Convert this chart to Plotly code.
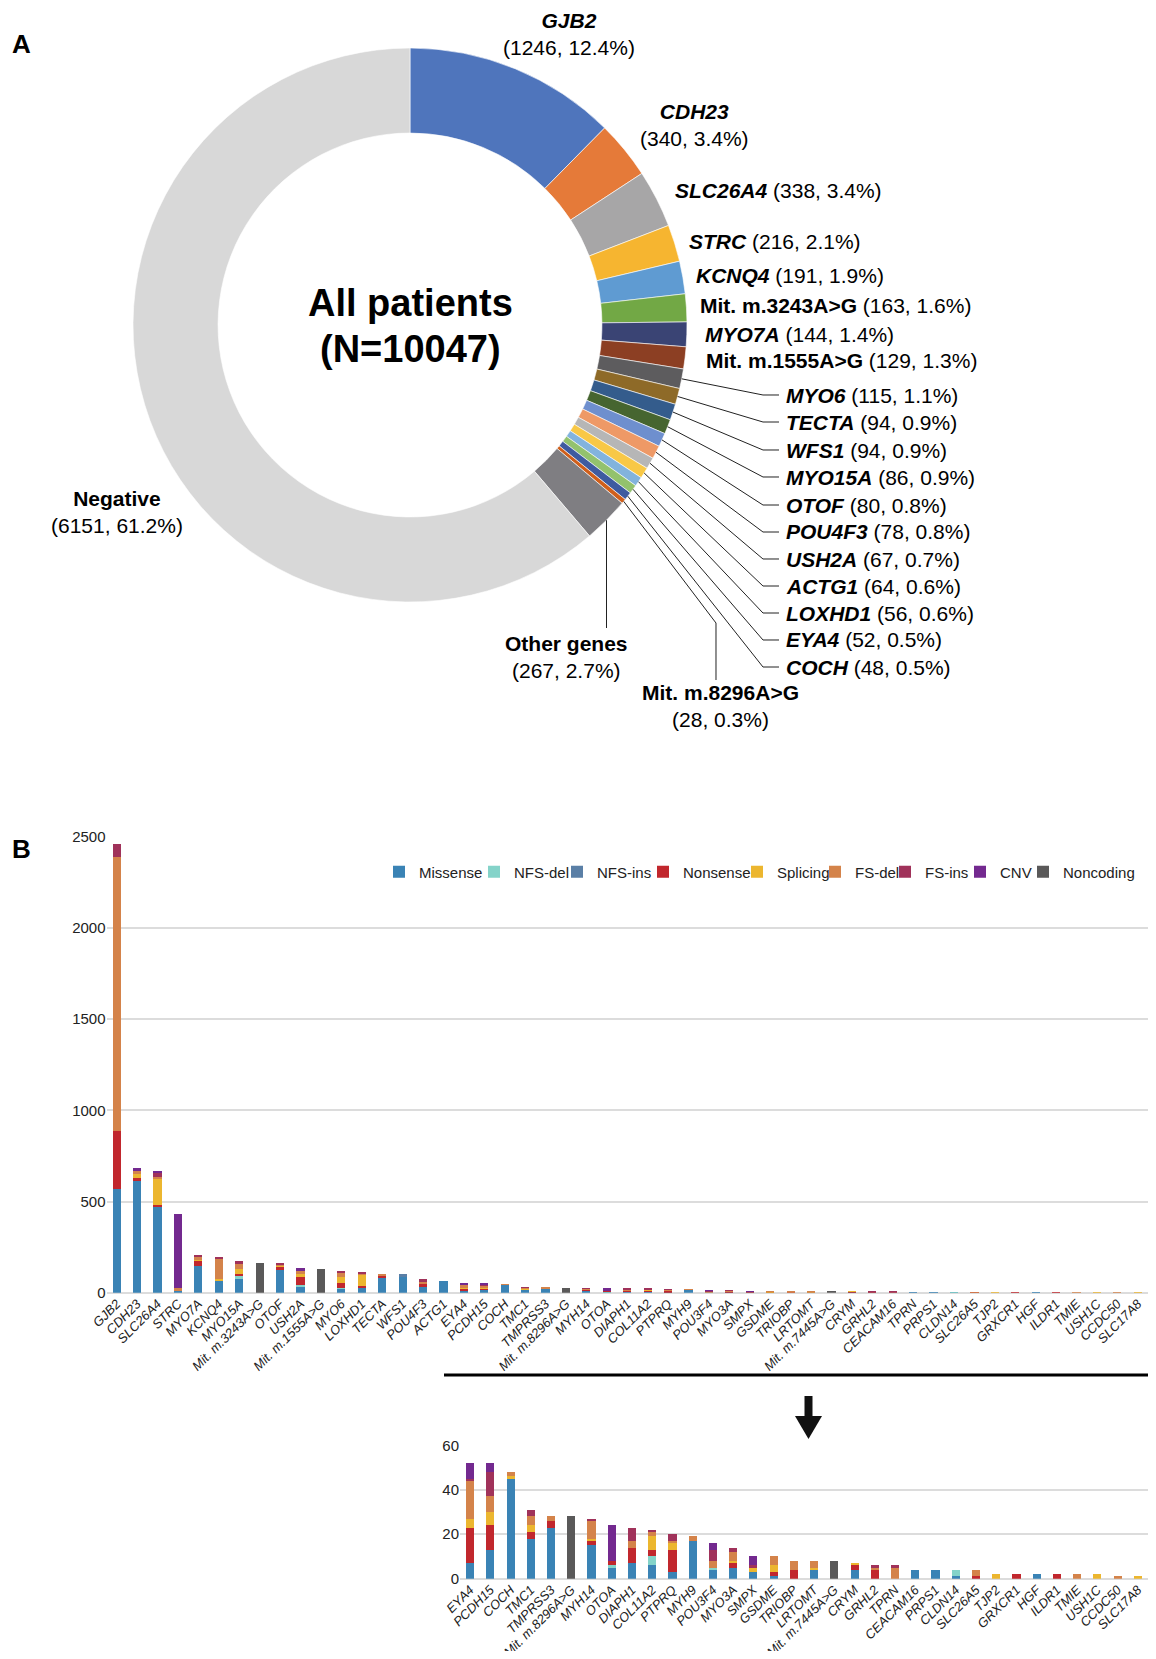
import math
import plotly.graph_objects as go

# The page body has an 8px margin; the figure is sized so that the page fits the window.
OFF = 8
WF, HF = 1140, 1643
RIGHT = OFF + WF  # right edge of the figure in page px
FONT = "Liberation Sans, Arial, Helvetica, sans-serif"

# ---------------- Panel A data ----------------
pie_labels = ["GJB2", "CDH23", "SLC26A4", "STRC", "KCNQ4", "Mit. m.3243A>G", "MYO7A",
              "Mit. m.1555A>G", "MYO6", "TECTA", "WFS1", "MYO15A", "OTOF", "POU4F3",
              "USH2A", "ACTG1", "LOXHD1", "EYA4", "COCH", "Mit. m.8296A>G",
              "Other genes", "Negative"]
pie_values = [1246, 340, 338, 216, 191, 163, 144, 129, 115, 94, 94, 86, 80, 78,
              67, 64, 56, 52, 48, 28, 267, 6151]
pie_colors = ["#4F75BC", "#E57A39", "#A7A6A7", "#F6B530", "#5F9BD2", "#72A845", "#3A4474",
              "#8C3F23", "#5D5C5E", "#8E6A28", "#345C8C", "#466530", "#6E8FCE", "#EE9966",
              "#B6B6B6", "#F8C846", "#82B3DD", "#93C26D", "#3E5BA0", "#D05F1B",
              "#7F7E82", "#D8D8D8"]
center_title = ["All patients", "(N=10047)"]

# ---------------- Panel B data ----------------
genes_main = ["GJB2", "CDH23", "SLC26A4", "STRC", "MYO7A", "KCNQ4", "MYO15A", "Mit. m.3243A>G",
              "OTOF", "USH2A", "Mit. m.1555A>G", "MYO6", "LOXHD1", "TECTA", "WFS1", "POU4F3",
              "ACTG1", "EYA4", "PCDH15", "COCH", "TMC1", "TMPRSS3", "Mit. m.8296A>G", "MYH14",
              "OTOA", "DIAPH1", "COL11A2", "PTPRQ", "MYH9", "POU3F4", "MYO3A", "SMPX", "GSDME",
              "TRIOBP", "LRTOMT", "Mit. m.7445A>G", "CRYM", "GRHL2", "CEACAM16", "TPRN", "PRPS1",
              "CLDN14", "SLC26A5", "TJP2", "GRXCR1", "HGF", "ILDR1", "TMIE", "USH1C", "CCDC50",
              "SLC17A8"]
genes_inset = ["EYA4", "PCDH15", "COCH", "TMC1", "TMPRSS3", "Mit. m.8296A>G", "MYH14", "OTOA",
               "DIAPH1", "COL11A2", "PTPRQ", "MYH9", "POU3F4", "MYO3A", "SMPX", "GSDME", "TRIOBP",
               "LRTOMT", "Mit. m.7445A>G", "CRYM", "GRHL2", "TPRN", "CEACAM16", "PRPS1", "CLDN14",
               "SLC26A5", "TJP2", "GRXCR1", "HGF", "ILDR1", "TMIE", "USH1C", "CCDC50", "SLC17A8"]
inset_start = 17

missense = [570, 612, 472, 10, 146, 64, 75, 0, 124, 38,
            0, 22, 26, 86, 92, 31, 64, 7, 13, 45,
            18, 23, 0, 15, 5, 7, 6, 3, 17, 4,
            5, 3, 1, 0, 4, 0, 4, 0, 0, 4,
            4, 1, 0, 0, 0, 2, 0, 0, 0, 0,
            0]
nfs_del = [0, 0, 0, 0, 0, 0, 18, 0, 0, 4,
           0, 5, 0, 0, 0, 0, 0, 0, 0, 0,
           0, 0, 0, 0, 1, 0, 4, 0, 0, 1,
           0, 0, 0, 0, 0, 0, 0, 0, 0, 0,
           0, 3, 0, 0, 0, 0, 0, 0, 0, 0,
           0]
nfs_ins = [0, 0, 0, 0, 0, 0, 0, 0, 0, 0,
           0, 0, 0, 0, 10, 0, 0, 0, 0, 0,
           0, 0, 0, 0, 0, 0, 0, 0, 0, 0,
           0, 0, 0, 0, 0, 0, 0, 0, 0, 0,
           0, 0, 0, 0, 0, 0, 0, 0, 0, 0,
           0]
nonsense = [318, 18, 11, 0, 29, 0, 11, 0, 19, 44,
            0, 26, 11, 5, 0, 17, 0, 16, 11, 0,
            3, 3, 0, 2, 2, 7, 3, 10, 0, 0,
            2, 0, 2, 4, 0, 0, 2, 4, 0, 0,
            0, 0, 1, 0, 2, 0, 2, 0, 0, 0,
            0]
splicing = [0, 20, 142, 0, 11, 11, 26, 0, 7, 16,
            0, 33, 62, 0, 0, 0, 0, 4, 6, 1,
            3, 0, 0, 1, 0, 0, 6, 3, 0, 0,
            1, 2, 3, 0, 1, 0, 1, 0, 0, 0,
            0, 0, 0, 2, 0, 0, 0, 0, 2, 0,
            1]
fs_del = [1501, 16, 7, 17, 10, 110, 25, 0, 5, 17,
          0, 22, 5, 11, 0, 12, 0, 17, 7, 2,
          4, 2, 0, 8, 0, 3, 2, 1, 2, 3,
          4, 0, 4, 4, 3, 0, 0, 1, 5, 0,
          0, 0, 3, 0, 0, 0, 0, 2, 0, 1,
          0]
fs_ins = [71, 0, 26, 0, 11, 11, 19, 0, 8, 0,
          0, 11, 11, 0, 0, 15, 0, 1, 11, 0,
          3, 0, 0, 1, 0, 6, 1, 3, 0, 5,
          2, 1, 0, 0, 0, 0, 0, 1, 1, 0,
          0, 0, 0, 0, 0, 0, 0, 0, 0, 0,
          0]
cnv = [0, 18, 9, 404, 0, 0, 0, 0, 0, 16,
       0, 0, 0, 0, 0, 0, 0, 7, 4, 0,
       0, 0, 0, 0, 16, 0, 0, 0, 0, 3,
       0, 4, 0, 0, 0, 0, 0, 0, 0, 0,
       0, 0, 0, 0, 0, 0, 0, 0, 0, 0,
       0]
noncoding = [0, 0, 0, 0, 0, 0, 0, 163, 0, 0,
             129, 0, 0, 0, 0, 0, 0, 0, 0, 0,
             0, 0, 28, 0, 0, 0, 0, 0, 0, 0,
             0, 0, 0, 0, 0, 8, 0, 0, 0, 0,
             0, 0, 0, 0, 0, 0, 0, 0, 0, 0,
             0]
series_names = ["Missense", "NFS-del", "NFS-ins", "Nonsense", "Splicing", "FS-del",
                "FS-ins", "CNV", "Noncoding"]
series_values = [missense, nfs_del, nfs_ins, nonsense, splicing, fs_del, fs_ins, cnv, noncoding]
series_colors = ["#3A83B5", "#84D3C9", "#5A7FA6", "#C1272D", "#ECB62F", "#D4834A",
                 "#A0325A", "#73298F", "#5A5959"]
main_yticks = [0, 500, 1000, 1500, 2000, 2500]
inset_yticks = [0, 20, 40, 60]


# ---------------- layout helpers (page pixel positions -> paper) ----------------
def PX(x):
    return (x - OFF) / WF


def PY(y):
    return 1 - (y - OFF) / HF


def P(x, y):
    return PX(x), PY(y)


cx, cy, R = 410, 325, 277
HOLE = 0.693

fig = go.Figure()

fig.add_trace(go.Pie(
    labels=pie_labels, values=pie_values, sort=False, direction="clockwise", rotation=0,
    hole=HOLE, textinfo="none", showlegend=False,
    marker=dict(colors=pie_colors, line=dict(color="white", width=0.6)),
    domain=dict(x=[PX(cx - R), PX(cx + R)], y=[PY(cy + R), PY(cy - R)]),
))

# stacked bars: main + inset
legend_widths = [50, 38, 41, 49, 33, 25, 30, 18, 72]
for name, vals, col, lw in zip(series_names, series_values, series_colors, legend_widths):
    fig.add_trace(go.Bar(x=genes_main, y=vals, name=name, marker_color=col,
                         marker_line_width=0, legendwidth=lw, xaxis="x", yaxis="y"))
for name, vals, col in zip(series_names, series_values, series_colors):
    fig.add_trace(go.Bar(x=genes_inset, y=vals[inset_start:], name=name, marker_color=col,
                         marker_line_width=0, showlegend=False, xaxis="x2", yaxis="y2"))

# ---------------- annotations ----------------
ann = []


def text(x, y, t, size, xanchor="center", yanchor="middle"):
    ax, ay = P(x, y)
    ann.append(dict(x=ax, y=ay, xref="paper", yref="paper", text=t, showarrow=False,
                    xanchor=xanchor, yanchor=yanchor,
                    font=dict(size=size, color="black", family=FONT)))


def name_html(n):
    if n.startswith("Mit.") or n in ("Other genes", "Negative"):
        return "<b>" + n + "</b>"
    return "<b><i>" + n + "</i></b>"


total = sum(pie_values)
# label positions (page px): (x, y, two_line)
label_pos = {
    "GJB2": (569, 34, True), "CDH23": (694, 125, True),
    "SLC26A4": (673, 191, False), "STRC": (687, 242, False), "KCNQ4": (694, 276, False),
    "Mit. m.3243A>G": (698, 305, False), "MYO7A": (703, 334, False),
    "Mit. m.1555A>G": (704, 360, False),
    "MYO6": (784, 395, False), "TECTA": (784, 422, False), "WFS1": (784, 450, False),
    "MYO15A": (784, 477, False), "OTOF": (784, 505, False), "POU4F3": (784, 532, False),
    "USH2A": (784, 559, False), "ACTG1": (784, 586, False), "LOXHD1": (784, 613, False),
    "EYA4": (784, 640, False), "COCH": (784, 667, False),
    "Mit. m.8296A>G": (720, 706, True), "Other genes": (566, 657, True),
    "Negative": (117, 512, True),
}
for lab, v in zip(pie_labels, pie_values):
    x, y, two = label_pos[lab]
    cnt = "(%d, %.1f%%)" % (v, 100.0 * v / total)
    if two:
        text(x, y, name_html(lab) + "<br>" + cnt, 21)
    else:
        text(x, y, name_html(lab) + " " + cnt, 21, xanchor="left")

text(410, 303, "<b>" + center_title[0] + "</b>", 38)
text(410, 349, "<b>" + center_title[1] + "</b>", 38)
text(21, 44, "<b>A</b>", 26)
text(21, 849, "<b>B</b>", 26)

# ---------------- leader lines ----------------
shapes = []
cum = 0
mid = {}
for lab, v in zip(pie_labels, pie_values):
    mid[lab] = (cum + v / 2) / total
    cum += v


def edge(lab):
    th = 2 * math.pi * mid[lab]
    return cx + R * math.sin(th), cy - R * math.cos(th)


def path(points, width=1, color="#222222"):
    d = ""
    for i, (x, y) in enumerate(points):
        px, py = P(x, y)
        d += ("M" if i == 0 else " L") + " %.5f %.5f" % (px, py)
    shapes.append(dict(type="path", path=d, xref="paper", yref="paper",
                       line=dict(color=color, width=width)))


for lab in ["MYO6", "TECTA", "WFS1", "MYO15A", "OTOF", "POU4F3", "USH2A", "ACTG1",
            "LOXHD1", "EYA4", "COCH"]:
    ex, ey = edge(lab)
    ly = label_pos[lab][1]
    path([(ex, ey), (763, ly), (779, ly)])
ex, ey = edge("Mit. m.8296A>G")
path([(ex, ey), (716, 623), (716, 680)])
ex, ey = edge("Other genes")
path([(ex, ey), (ex, 628)])

# separator and arrow
x0, y0 = P(444, 1375)
x1, y1 = P(RIGHT, 1375)
shapes.append(dict(type="line", x0=x0, y0=y0, x1=x1, y1=y1, xref="paper", yref="paper",
                   line=dict(color="black", width=3)))
ax0, ay0 = P(804.5, 1396)
ax1, ay1 = P(812.5, 1418)
shapes.append(dict(type="rect", x0=ax0, y0=ay0, x1=ax1, y1=ay1, xref="paper", yref="paper",
                   fillcolor="#111111", line=dict(width=0)))
pts = [P(795, 1416), P(822, 1416), P(808.5, 1439)]
shapes.append(dict(type="path", xref="paper", yref="paper", fillcolor="#111111",
                   line=dict(width=0),
                   path="M %.5f %.5f L %.5f %.5f L %.5f %.5f Z" % (pts[0] + pts[1] + pts[2])))

GRID = "#DCDCDC"
fig.update_layout(
    width=WF, height=HF, margin=dict(l=0, r=0, t=0, b=0, autoexpand=False),
    paper_bgcolor="white", plot_bgcolor="white",
    font=dict(family=FONT, color="#222222"),
    barmode="stack", bargap=0.6,
    annotations=ann, shapes=shapes,
    legend=dict(orientation="h", x=PX(379), xanchor="left", y=PY(872), yanchor="middle",
                font=dict(size=15, color="#222222"), traceorder="normal",
                bgcolor="rgba(0,0,0,0)", itemclick=False),
    xaxis=dict(domain=[PX(106.5), 1], anchor="y", type="category", range=[-0.5, 50.5],
               tickangle=-45, tickfont=dict(size=13, style="italic"), showgrid=False,
               ticks="", showline=False, zeroline=False, automargin=False),
    yaxis=dict(domain=[PY(1292.7), PY(836.7)], anchor="x", range=[0, 2500],
               tickvals=main_yticks, tickfont=dict(size=15), gridcolor=GRID, gridwidth=1.5,
               zeroline=True, zerolinecolor=GRID, zerolinewidth=1.5, ticks="",
               showline=False, automargin=False),
    xaxis2=dict(domain=[PX(460), 1], anchor="y2", type="category", range=[-0.5, 33.5],
                tickangle=-45, tickfont=dict(size=13, style="italic"), showgrid=False,
                ticks="", showline=False, zeroline=False, automargin=False),
    yaxis2=dict(domain=[PY(1578.7), PY(1445.3)], anchor="x2", range=[0, 60],
                tickvals=inset_yticks, tickfont=dict(size=15), gridcolor=GRID, gridwidth=1.5,
                zeroline=True, zerolinecolor=GRID, zerolinewidth=1.5, ticks="",
                showline=False, automargin=False),
)

fig.write_html("out.html")
